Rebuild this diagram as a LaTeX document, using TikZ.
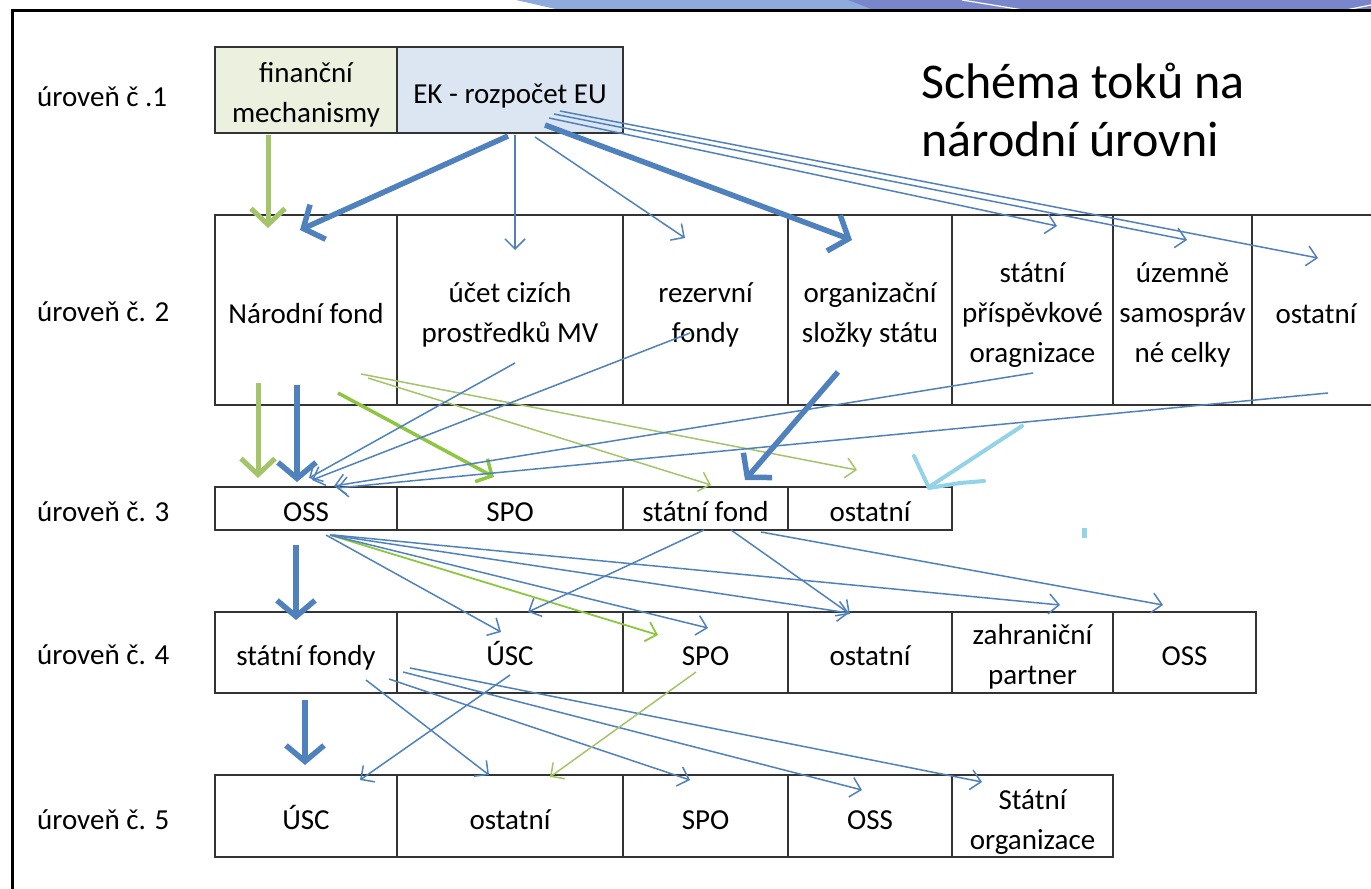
\documentclass[tikz,border=0pt]{standalone}
\usepackage{fontspec}
\setmainfont{Carlito}
\usetikzlibrary{arrows.meta,calc}
\definecolor{ob}{HTML}{4F81BD}
\definecolor{og}{HTML}{A4C46A}
\definecolor{bg}{HTML}{8DC63F}
\definecolor{cy}{HTML}{93D3E8}
\definecolor{fmfill}{HTML}{EBF1DE}
\definecolor{ekfill}{HTML}{DCE6F2}
\definecolor{stripeA}{HTML}{8FAADC}
\definecolor{stripeB}{HTML}{7A86CB}
\newcommand{\cellstrut}{\rule[-7pt]{0pt}{40pt}}
\tikzset{
  ctext/.style={rectangle, inner sep=0pt, align=center, font=\fontsize{29}{40}\selectfont, execute at begin node=\cellstrut, execute at end node=\cellstrut},
  cell/.style={ctext, draw=black!80, line width=1.6pt, fill=white},
  lbl/.style={anchor=west, inner sep=0pt, font=\fontsize{29}{40}\selectfont},
  thinb/.style={draw=ob, line width=1.5pt, -{Straight Barb[length=10pt,width=20pt]}},
  thing/.style={draw=og, line width=1.5pt, -{Straight Barb[length=10pt,width=20pt]}},
  medg/.style={draw=bg, line width=1.8pt, -{Straight Barb[length=10pt,width=20pt]}},
  thickb/.style={draw=ob, line width=5.5pt, -{Straight Barb[length=16pt,width=38pt]}},
  thickg/.style={draw=og, line width=5pt, -{Straight Barb[length=16pt,width=34pt]}},
  medgt/.style={draw=bg, line width=3.5pt, -{Straight Barb[length=12pt,width=26pt]}},
}
\begin{document}
\begin{tikzpicture}[x=1pt,y=-1pt]
\useasboundingbox (0,0) rectangle (1371,889);
% decorative stripe
\fill[stripeA] (516,0) -- (1371,0) -- (1371,10) -- (560,10) -- cycle;
\fill[stripeB] (848,0) -- (1371,0) -- (1371,10) -- (874,10) -- cycle;
\draw[white, line width=1.2pt] (962,0) -- (1023,10);
\draw[white, line width=1.2pt] (1346,10) -- (1371,5);
% frame
\draw[black, line width=3pt] (12,889) -- (12,10) -- (1371,10);

% title
\node[anchor=west, inner sep=0pt, align=left, font=\fontsize{50}{58}\selectfont] (title) at (921,110) {Schéma toků na\\národní úrovni};

% row labels
\node[lbl] (l1) at (37,97) {úroveň č .1};
\node[lbl] (l2) at (37,312) {úroveň č. 2};
\node[lbl] (l3) at (37,512) {úroveň č. 3};
\node[lbl] (l4) at (37,655) {úroveň č. 4};
\node[lbl] (l5) at (37,820) {úroveň č. 5};

% level 1
\node[cell, fill=fmfill, minimum width=182pt, minimum height=86pt] (fm) at (306,90) {};
\node[ctext] (fmt) at ($(fm.center)+(0,6)$) {finanční\\mechanismy};
\node[cell, fill=ekfill, minimum width=226pt, minimum height=86pt] (ek) at (510,90) {EK - rozpočet EU};

% level 2
\node[cell, minimum width=182pt, minimum height=190pt] (nf) at (306,310) {Národní fond};
\node[cell, minimum width=226pt, minimum height=190pt] (ucet) at (510,310) {};
\node[ctext] (ucett) at ($(ucet.center)+(0,6)$) {účet cizích\\prostředků MV};
\node[cell, minimum width=165pt, minimum height=190pt] (rez) at (705.5,310) {};
\node[ctext] (rezt) at ($(rez.center)+(0,6)$) {rezervní\\fondy};
\node[cell, minimum width=164pt, minimum height=190pt] (org) at (870,310) {};
\node[ctext] (orgt) at ($(org.center)+(0,6)$) {organizační\\složky státu};
\node[cell, minimum width=161pt, minimum height=190pt] (spo2) at (1032.5,310) {};
\node[ctext] (spo2t) at ($(spo2.center)+(0,6)$) {státní\\příspěvkové\\oragnizace};
\node[cell, minimum width=139pt, minimum height=190pt] (usc2) at (1182.5,310) {};
\node[ctext] (usc2t) at ($(usc2.center)+(0,6)$) {územně\\samospráv\\né celky};
\node[cell, minimum width=128pt, minimum height=190pt] (ost2) at (1316,310) {ostatní};

% level 3
\node[cell, minimum width=182pt, minimum height=43pt] (oss3) at (306,508.5) {OSS};
\node[cell, minimum width=226pt, minimum height=43pt] (spo3) at (510,508.5) {SPO};
\node[cell, minimum width=165pt, minimum height=43pt] (sf3) at (705.5,508.5) {státní fond};
\node[cell, minimum width=164pt, minimum height=43pt] (ost3) at (870,508.5) {ostatní};

% level 4
\node[cell, minimum width=182pt, minimum height=81pt] (sf4) at (306,652.5) {státní fondy};
\node[cell, minimum width=226pt, minimum height=81pt] (usc4) at (510,652.5) {ÚSC};
\node[cell, minimum width=165pt, minimum height=81pt] (spo4) at (705.5,652.5) {SPO};
\node[cell, minimum width=164pt, minimum height=81pt] (ost4) at (870,652.5) {ostatní};
\node[cell, minimum width=161pt, minimum height=81pt] (zp4) at (1032.5,652.5) {};
\node[ctext] (zp4t) at ($(zp4.center)+(0,5)$) {zahraniční\\partner};
\node[cell, minimum width=143pt, minimum height=81pt] (oss4) at (1184.5,652.5) {OSS};

% level 5
\node[cell, minimum width=182pt, minimum height=82pt] (usc5) at (306,816) {ÚSC};
\node[cell, minimum width=226pt, minimum height=82pt] (ost5) at (510,816) {ostatní};
\node[cell, minimum width=165pt, minimum height=82pt] (spo5) at (705.5,816) {SPO};
\node[cell, minimum width=164pt, minimum height=82pt] (oss5) at (870,816) {OSS};
\node[cell, minimum width=161pt, minimum height=82pt] (so5) at (1032.5,816) {};
\node[ctext] (so5t) at ($(so5.center)+(0,7)$) {Státní\\organizace};

% ---- arrows level 1 -> 2
\draw[thickg] ($(fm.center)+(-38,45)$) -- ($(nf.center)+(-38,-82)$);
\draw[thickb] ($(ek.center)+(-2,46)$) -- ($(nf.center)+(-6,-80)$);
\draw[thinb] ($(ek.center)+(5,45)$) -- ($(ucet.center)+(5,-60)$);
\draw[thinb] ($(ek.center)+(25,47)$) -- ($(rez.center)+(-20.5,-72)$);
\draw[thickb] ($(ek.center)+(35,35)$) -- ($(org.center)+(-18,-70)$);
\draw[thinb] ($(ek.center)+(39,28)$) -- ($(spo2.center)+(24.5,-84)$);
\draw[thinb] ($(ek.center)+(44,24)$) -- ($(usc2.center)+(4.5,-70)$);
\draw[thinb] ($(ek.center)+(50,21)$) -- ($(ost2.center)+(2,-52)$);

% ---- arrows level 2 -> 3
\draw[thickg] ($(nf.center)+(-48,73)$) -- ($(oss3.center)+(-48,-30.5)$);
\draw[thickb] ($(nf.center)+(-9,75)$) -- ($(oss3.center)+(-9,-26.5)$);
\draw[medgt] ($(nf.center)+(32,83)$) -- ($(spo3.center)+(-16,-31.5)$);
\draw[thing] ($(nf.center)+(55,64)$) -- ($(ost3.center)+(-13,-38.5)$);
\draw[thing] ($(nf.center)+(62,68)$) -- ($(sf3.center)+(5.5,-23.5)$);
\draw[thinb] ($(ucet.center)+(5,53)$) -- ($(oss3.center)+(3,-30.5)$);
\draw[thinb] ($(rez.center)+(-15.5,23)$) -- ($(oss3.center)+(6,-28.5)$);
\draw[thinb] ($(spo2.center)+(0.5,63)$) -- ($(oss3.center)+(28,-22.5)$);
\draw[thinb] ($(ost2.center)+(12,83)$) -- ($(oss3.center)+(31,-20.5)$);
\draw[thickb] ($(org.center)+(-32,62)$) -- ($(sf3.center)+(39.5,-28.5)$);

% hand-drawn cyan arrow
\draw[cy, line width=4pt, line cap=round, line join=round] (1022,426) -- (929,487);
\draw[cy, line width=4pt, line cap=round, line join=round] (914,456) -- (929,488) -- (960,483) -- (984,481);
\fill[cy] (1082,528) rectangle (1087,538);

% ---- arrows level 3 -> 4
\draw[thickb] ($(oss3.center)+(-10,36.5)$) -- ($(sf4.center)+(-10,-32.5)$);
\draw[thinb] ($(oss3.center)+(20,26.5)$) -- ($(usc4.center)+(-9,-20.5)$);
\draw[medg] ($(oss3.center)+(24,26.5)$) -- ($(spo4.center)+(-47.5,-17.5)$);
\draw[thinb] ($(oss3.center)+(24,26.5)$) -- ($(spo4.center)+(2.5,-24.5)$);
\draw[thinb] ($(oss3.center)+(25,26.5)$) -- ($(ost4.center)+(-21,-39.5)$);
\draw[thinb] ($(oss3.center)+(27,26.5)$) -- ($(zp4.center)+(27.5,-47.5)$);
\draw[thinb] ($(sf3.center)+(-1.5,21.5)$) -- ($(usc4.center)+(18,-40.5)$);
\draw[thinb] ($(sf3.center)+(25.5,21.5)$) -- ($(ost4.center)+(-20,-38.5)$);
\draw[thinb] ($(sf3.center)+(55.5,23.5)$) -- ($(oss4.center)+(-21.5,-47.5)$);

% ---- arrows level 4 -> 5
\draw[thickb] ($(sf4.center)+(-1,47.5)$) -- ($(usc5.center)+(-1,-51)$);
\draw[thinb] ($(usc4.center)+(0,22.5)$) -- ($(usc5.center)+(54,-36)$);
\draw[thinb] ($(sf4.center)+(60,27.5)$) -- ($(ost5.center)+(-21,-41)$);
\draw[thinb] ($(sf4.center)+(83,26.5)$) -- ($(spo5.center)+(-15.5,-36)$);
\draw[thinb] ($(sf4.center)+(97,19.5)$) -- ($(oss5.center)+(-8,-26)$);
\draw[thinb] ($(sf4.center)+(104,15.5)$) -- ($(so5.center)+(-50.5,-34)$);
\draw[thing] ($(spo4.center)+(-9.5,19.5)$) -- ($(ost5.center)+(40,-39)$);
\end{tikzpicture}
\end{document}
